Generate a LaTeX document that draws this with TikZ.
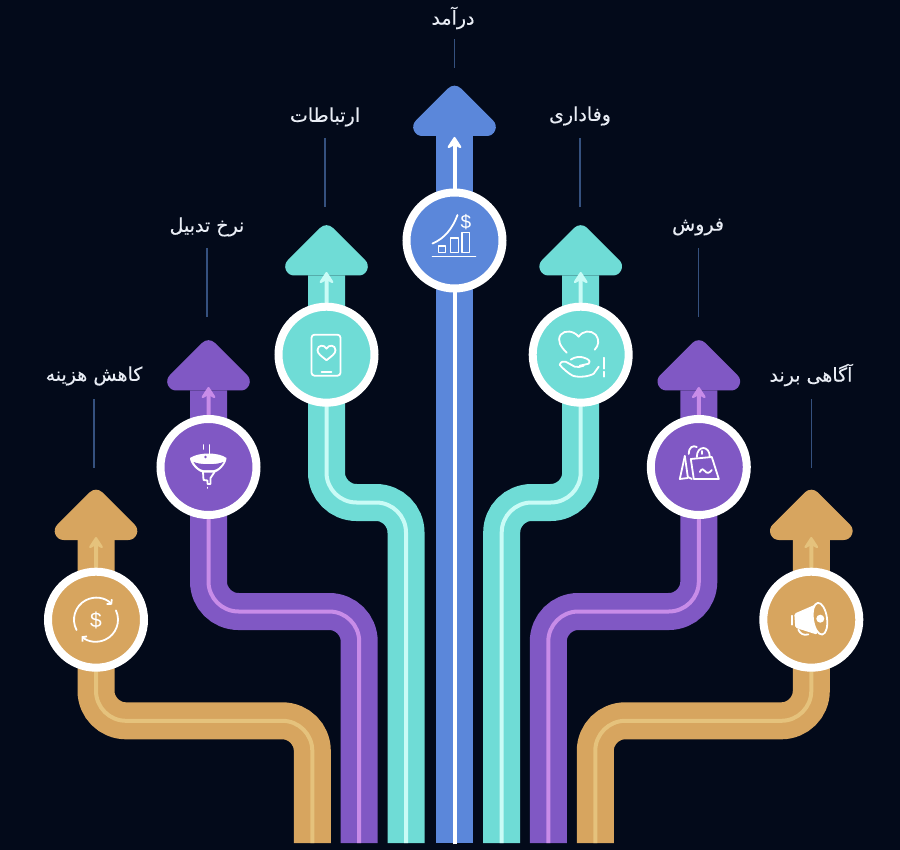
\documentclass[tikz,border=0pt]{standalone}
\usepackage{fontspec}
\usepackage{xcolor}
\usetikzlibrary{arrows.meta,calc,positioning}
\TeXXeTstate=1
\newfontfamily\arabicfont[Script=Arabic,RawFeature={embolden=0.3}]{DejaVu Sans}
\newfontfamily\dollarfont{Liberation Sans}
\definecolor{night}{HTML}{030A1A}
\definecolor{sky}{HTML}{5B87DA}
\definecolor{aqua}{HTML}{6FDCD6}
\definecolor{grape}{HTML}{8058C4}
\definecolor{sand}{HTML}{D7A55F}
\definecolor{aqualine}{HTML}{C9FBF6}
\definecolor{grapeline}{HTML}{C88CE8}
\definecolor{sandline}{HTML}{E5C27C}
\definecolor{leadercol}{HTML}{35517F}
\definecolor{textcol}{HTML}{E9EDF5}
\tikzset{
  ribbon/.style = {line width=37pt, rounded corners=30pt},
  core/.style = {line width=4pt, rounded corners=30pt, -{Stealth[length=14pt,width=18pt,inset=5pt,round]}},
  ball/.style = {circle, draw=white, line width=8pt, minimum size=96pt, inner sep=0pt, outer sep=0pt},
  leader/.style = {leadercol, line width=1.3pt},
  tag/.style = {text=textcol, font=\arabicfont\fontsize{19}{22}\selectfont, inner sep=0pt},
  icon/.style = {white, line width=1.8pt, line cap=round, line join=round},
  pics/headup/.style = {code = {
    \filldraw[#1, line width=18pt, line join=round] (-32.3,-9) -- (0,-41.3) -- (32.3,-9) -- cycle;
  }},
}
\begin{document}
\begin{tikzpicture}[x=1pt, y=-1pt]
  \useasboundingbox (0,0) rectangle (900,850);
  \fill[night] (0,0) rectangle (900,850);

  % feet of the ribbons
  \coordinate (footcost) at (312.3,843);
  \coordinate (footconvert) at (359.2,843);
  \coordinate (footcomms) at (406,843);
  \coordinate (footincome) at (454.5,843);
  \coordinate (footloyalty) at (501.7,843);
  \coordinate (footsales) at (548.3,843);
  \coordinate (footbrand) at (595.3,843);

  % bases of the heads
  \coordinate (headcost) at (96,540);
  \coordinate (headconvert) at (208.5,390.5);
  \coordinate (headcomms) at (326.5,275.5);
  \coordinate (headincome) at (454.5,136);
  \coordinate (headloyalty) at (580.7,275.5);
  \coordinate (headsales) at (698.8,390.5);
  \coordinate (headbrand) at (811.3,540);

  % tips of the inner lines
  \coordinate (tipcost) at (96,537);
  \coordinate (tipconvert) at (208.5,387);
  \coordinate (tipcomms) at (326.5,272);
  \coordinate (tipincome) at (454.5,137);
  \coordinate (tiployalty) at (580.7,272);
  \coordinate (tipsales) at (698.8,387);
  \coordinate (tipbrand) at (811.3,537);

  \draw[ribbon, sand] (footcost) -- (footcost |- 0,720.8) -- (headcost |- 0,720.8) -- (headcost);
  \draw[ribbon, sand] (footbrand) -- (footbrand |- 0,720.8) -- (headbrand |- 0,720.8) -- (headbrand);
  \draw[ribbon, grape] (footconvert) -- (footconvert |- 0,611.5) -- (headconvert |- 0,611.5) -- (headconvert);
  \draw[ribbon, grape] (footsales) -- (footsales |- 0,611.5) -- (headsales |- 0,611.5) -- (headsales);
  \draw[ribbon, aqua] (footcomms) -- (footcomms |- 0,502.5) -- (headcomms |- 0,502.5) -- (headcomms);
  \draw[ribbon, aqua] (footloyalty) -- (footloyalty |- 0,502.5) -- (headloyalty |- 0,502.5) -- (headloyalty);
  \draw[ribbon, sky] (footincome) -- (headincome);

  \pic at (headcost) {headup=sand};
  \pic at (headbrand) {headup=sand};
  \pic at (headconvert) {headup=grape};
  \pic at (headsales) {headup=grape};
  \pic at (headcomms) {headup=aqua};
  \pic at (headloyalty) {headup=aqua};
  \pic at (headincome) {headup=sky};

  \draw[core, sandline] (footcost) -- (footcost |- 0,720.8) -- (tipcost |- 0,720.8) -- (tipcost);
  \draw[core, sandline] (footbrand) -- (footbrand |- 0,720.8) -- (tipbrand |- 0,720.8) -- (tipbrand);
  \draw[core, grapeline] (footconvert) -- (footconvert |- 0,611.5) -- (tipconvert |- 0,611.5) -- (tipconvert);
  \draw[core, grapeline] (footsales) -- (footsales |- 0,611.5) -- (tipsales |- 0,611.5) -- (tipsales);
  \draw[core, aqualine] (footcomms) -- (footcomms |- 0,502.5) -- (tipcomms |- 0,502.5) -- (tipcomms);
  \draw[core, aqualine] (footloyalty) -- (footloyalty |- 0,502.5) -- (tiployalty |- 0,502.5) -- (tiployalty);
  \draw[core, white, shorten <=-1.3pt] (footincome) -- (tipincome);

  \node[ball, fill=sand] (cost) at (96,619.7) {};
  \node[ball, fill=sand] (brand) at (811.3,619.7) {};
  \node[ball, fill=grape] (convert) at (208.5,467) {};
  \node[ball, fill=grape] (sales) at (698.8,467) {};
  \node[ball, fill=aqua] (comms) at (326.5,354.7) {};
  \node[ball, fill=aqua] (loyalty) at (580.7,354.7) {};
  \node[ball, fill=sky] (income) at (454.5,240.5) {};

  % chart
  \begin{scope}[shift={(income)}, icon]
    \draw (-22,16) -- (21,16);
    \draw (-16,5.5) rectangle (-9,12);
    \draw (-4,-2.5) rectangle (4,12);
    \draw (7.5,-8) rectangle (15,12);
    \draw (-22,3) .. controls (-10,-2) and (-2,-12) .. (3,-25.5);
    \node[white, font=\dollarfont\fontsize{19}{19}\selectfont, inner sep=0pt] (incomedollar) at (11.5,-18) {\$};
  \end{scope}

  % phone
  \begin{scope}[shift={(comms)}, icon]
    \draw[rounded corners=3pt] (-15,-20) rectangle (14,21);
    \draw (-5,17) -- (5,17);
    \draw (0,5.5) .. controls (-5,1.5) and (-9,-1) .. (-9,-4.5) .. controls (-9,-10) and (-2,-10.5) .. (0,-6)
      .. controls (2,-10.5) and (9,-10) .. (9,-4.5) .. controls (9,-1) and (5,1.5) .. (0,5.5);
  \end{scope}

  % heart in a hand
  \begin{scope}[shift={(loyalty)}, icon]
    \draw (-14,-2) .. controls (-20,-8) and (-24,-14) .. (-20,-20) .. controls (-16,-25) and (-7,-24) .. (-2,-18)
      .. controls (2,-24) and (10,-25) .. (15,-20) .. controls (19,-15) and (18,-9) .. (14,-5);
    \draw (-10,5) .. controls (-6,2) and (0,1) .. (6,4) .. controls (9,5.5) and (10,8) .. (8,9) -- (-1,11);
    \draw (-21,10) .. controls (-20,7) and (-17,6) .. (-15,7) -- (-6,12) .. controls (-3,13) and (0,12) .. (3,11);
    \draw (-21,10) .. controls (-19,13) and (-12,19) .. (-8,21) .. controls (-2,23) and (8,22) .. (13,19) -- (18,12);
    \draw (23,3) -- (23,14);
    \draw (23,17) -- (23,22);
  \end{scope}

  % sink
  \begin{scope}[shift={(convert)}, icon]
    \fill (-18.5,-9) .. controls (-10,-15) and (10,-15) .. (18,-9) .. controls (18,-3) and (10,5.5) .. (5,5.5)
      -- (-5,5.5) .. controls (-10,5.5) and (-18.5,-3) .. (-18.5,-9) -- cycle;
    \fill[grape] (-15,-5) .. controls (-8,-2) and (8,-2) .. (15,-5) .. controls (12,0) and (8,3) .. (5,3)
      -- (-5,3) .. controls (-8,3) and (-12,0) .. (-15,-5) -- cycle;
    \fill[grape] (-3,-10) circle[radius=1.3];
    \draw (-5.5,5) -- (-5,13) -- (-1,13.5) -- (-1,17) -- (2,17) -- (2,11) -- (6,5);
    \draw (-1,20.5) -- (-1,21);
    \draw (-5,-22) -- (-5,-18);
    \draw (1,-22) -- (1,-13);
  \end{scope}

  % shopping bags
  \begin{scope}[shift={(sales)}, icon]
    \draw (-8,-8) -- (13,-10) -- (20,12) -- (-5,12) -- cycle;
    \draw (-2,-10) .. controls (-2,-22) and (11,-22) .. (11,-10);
    \draw (-10,-13) .. controls (-10,-20) and (-6,-22) .. (-2,-20);
    \draw (3,-16) -- (3,-13);
    \draw (-14,-11) -- (-19,12);
    \draw (-14,-11) -- (-11,10) -- (-7,12);
    \draw (-19,12) -- (-11,11);
    \draw (1,5) .. controls (3,1) and (5,2) .. (6,4) .. controls (8,7) and (11,6) .. (13,3);
  \end{scope}

  % megaphone
  \begin{scope}[shift={(brand)}, icon]
    \fill[rounded corners=1.5pt] (-17,-6) -- (6,-16) -- (6,15) -- (-16,8) -- cycle;
    \draw (-19,-4) -- (-19,5);
    \draw (-13,10) .. controls (-11,14) and (-8,16) .. (-3,14.7);
    \draw[fill=sand, rotate around={8:(8.7,-1)}] (8.7,-1) ellipse[x radius=7, y radius=16];
    \fill (9,-1) circle[radius=4];
  \end{scope}

  % dollar between two arrows
  \begin{scope}[shift={(cost)}, icon]
    \draw[-{Straight Barb[length=3pt,width=7pt]}] (152:22) arc[start angle=152, end angle=317, radius=22];
    \draw[-{Straight Barb[length=3pt,width=7pt]}] (-25:22) arc[start angle=-25, end angle=131, radius=22];
    \node[white, font=\dollarfont\fontsize{21}{21}\selectfont, inner sep=0pt] (costdollar) at (0,1) {\$};
  \end{scope}

  \node[tag] (incomelabel) at (453,18) {\beginR درآمد\endR};
  \node[tag] (commslabel) at (325,117) {\beginR ارتباطات\endR};
  \node[tag] (loyaltylabel) at (580,116) {\beginR وفاداری\endR};
  \node[tag] (convertlabel) at (207,227) {\beginR نرخ تدبیل\endR};
  \node[tag] (saleslabel) at (698,227) {\beginR فروش\endR};
  \node[tag] (costlabel) at (94,376) {\beginR کاهش هزینه\endR};
  \node[tag] (brandlabel) at (811,375) {\beginR آگاهی برند\endR};

  \coordinate (incometop) at (454.5,39);
  \coordinate (incomeend) at (454.5,68);
  \coordinate (commstop) at (325,138);
  \coordinate (commsend) at (325,207);
  \coordinate (loyaltytop) at (580,138);
  \coordinate (loyaltyend) at (580,207);
  \coordinate (converttop) at (207,248);
  \coordinate (convertend) at (207,317);
  \coordinate (salestop) at (698.7,248);
  \coordinate (salesend) at (698.7,317);
  \coordinate (costtop) at (94,399);
  \coordinate (costend) at (94,468);
  \coordinate (brandtop) at (811.3,399);
  \coordinate (brandend) at (811.3,468);

  \draw[leader] (incometop) -- (incomeend);
  \draw[leader] (commstop) -- (commsend);
  \draw[leader] (loyaltytop) -- (loyaltyend);
  \draw[leader] (converttop) -- (convertend);
  \draw[leader] (salestop) -- (salesend);
  \draw[leader] (costtop) -- (costend);
  \draw[leader] (brandtop) -- (brandend);
\end{tikzpicture}
\end{document}
